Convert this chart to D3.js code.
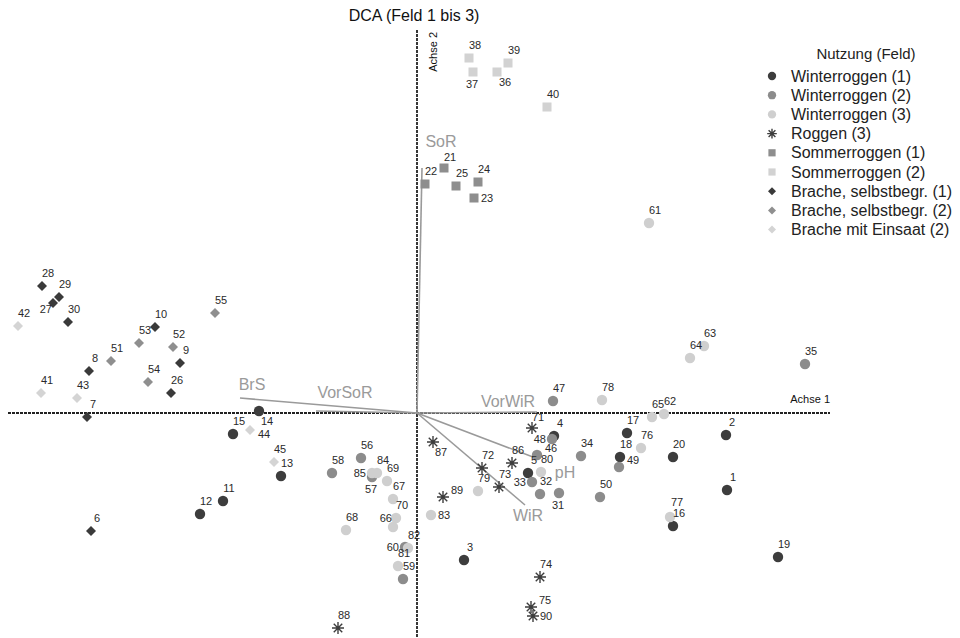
<!DOCTYPE html>
<html>
<head>
<meta charset="utf-8">
<script src="https://cdn.jsdelivr.net/npm/d3@7"></script>
<style>
  body { margin: 0; background: #fff; }
  svg { font-family: "Liberation Sans", Arial, sans-serif; }
  .flat { opacity: 0.995; }
</style>
</head>
<body>
<div id="chart"></div>
<script>
var svgWidth = 960;
var svgHeight = 638;

// Nutzung (Feld) groups
var groupNames = ["Winterroggen (1)", "Winterroggen (2)", "Winterroggen (3)", "Roggen (3)",
  "Sommerroggen (1)", "Sommerroggen (2)", "Brache, selbstbegr. (1)",
  "Brache, selbstbegr. (2)", "Brache mit Einsaat (2)"];
var groupShapes = ["circle", "circle", "circle", "asterisk", "square", "square",
  "diamond", "diamond", "diamond"];
var groupColors = ["#3d3d3d", "#8c8c8c", "#cfcfcf", "#3d3d3d", "#8e8e8e", "#d2d2d2",
  "#3a3a3a", "#8f8f8f", "#d4d4d4"];

// site scores [plot, axis 1, axis 2]
var winterroggen1 = [[1, 3.10, -0.77], [2, 3.09, -0.22], [3, 0.47, -1.47], [4, 1.37, -0.23],
  [5, 1.11, -0.60], [11, -1.94, -0.88], [12, -2.17, -1.01], [13, -1.36, -0.63],
  [14, -1.58, 0.02], [15, -1.84, -0.21], [16, 2.56, -1.13], [17, 2.10, -0.20],
  [18, 2.03, -0.44], [19, 3.61, -1.44], [20, 2.56, -0.44]];
var winterroggen2 = [[31, 1.42, -0.80], [32, 1.23, -0.81], [33, 1.15, -0.69], [34, 1.64, -0.43],
  [35, 3.88, 0.49], [46, 1.20, -0.42], [47, 1.36, 0.12], [48, 1.35, -0.26],
  [49, 2.02, -0.54], [50, 1.83, -0.84], [56, -0.56, -0.45], [57, -0.45, -0.64],
  [58, -0.85, -0.60], [59, -0.14, -1.66], [60, -0.12, -1.34]];
var winterroggen3 = [[61, 2.32, 1.90], [62, 2.47, -0.01], [63, 2.87, 0.67], [64, 2.73, 0.55],
  [65, 2.35, -0.04], [66, -0.24, -1.14], [67, -0.24, -0.86], [68, -0.71, -1.17],
  [69, -0.30, -0.68], [70, -0.21, -1.05], [76, 2.24, -0.35], [77, 2.53, -1.04],
  [78, 1.85, 0.13], [79, 0.61, -0.78], [80, 1.24, -0.59], [81, -0.19, -1.53],
  [82, -0.09, -1.35], [83, 0.14, -1.02], [84, -0.40, -0.60], [85, -0.45, -0.60]];
var roggen3 = [[71, 1.15, -0.15], [72, 0.65, -0.55], [73, 0.82, -0.74], [74, 1.23, -1.64],
  [75, 1.14, -1.94], [86, 0.95, -0.50], [87, 0.16, -0.29], [88, -0.79, -2.15],
  [89, 0.26, -0.84], [90, 1.16, -2.03]];
var sommerroggen1 = [[21, 0.27, 2.45], [22, 0.08, 2.29], [23, 0.57, 2.15], [24, 0.61, 2.31],
  [25, 0.39, 2.27]];
var sommerroggen2 = [[36, 0.80, 3.41], [37, 0.56, 3.41], [38, 0.52, 3.55], [39, 0.91, 3.50],
  [40, 1.30, 3.06]];
var brache1 = [[6, -3.26, -1.18], [7, -3.30, -0.04], [8, -3.28, 0.42], [9, -2.37, 0.50],
  [10, -2.62, 0.86], [26, -2.46, 0.20], [27, -3.64, 1.10], [28, -3.75, 1.27],
  [29, -3.58, 1.16], [30, -3.49, 0.91]];
var brache2 = [[51, -3.06, 0.52], [52, -2.44, 0.66], [53, -2.78, 0.70], [54, -2.69, 0.31],
  [55, -2.02, 1.00]];
var bracheEinsaat = [[41, -3.76, 0.20], [42, -3.99, 0.87], [43, -3.40, 0.15], [44, -1.67, -0.17],
  [45, -1.43, -0.49]];

var groupData = [winterroggen1, winterroggen2, winterroggen3, roggen3, sommerroggen1,
  sommerroggen2, brache1, brache2, bracheEinsaat];

// environmental vectors
var vectorNames = ["SoR", "BrS", "VorSoR", "VorWiR", "pH", "WiR"];
var vectorX = [0.05, -1.77, -1.01, 1.20, 1.16, 1.08];
var vectorY = [2.45, 0.15, 0.02, 0.01, -0.44, -0.92];

// label placement (layout only)
var labelPlace = {14: "se", 36: "se", 87: "se", 37: "s", 31: "s", 57: "s", 33: "w", 85: "w",
  60: "w", 48: "w", 27: "sw", 66: "nw", 23: "e", 44: "e2", 83: "e", 90: "e", 89: "en",
  49: "en", 75: "en", 46: "en", 77: "n2", 21: "n3", 71: "n3"};
var placeOffsets = {
  ne: [6, -9, "middle"], se: [2, 14, "start"], s: [-1, 16, "middle"], w: [-6, 4, "end"],
  sw: [-1, 10, "end"], nw: [-1, -5, "end"], e: [7, 4, "start"], en: [8, -3, "start"],
  e2: [8, 8, "start"], n2: [7, -11, "middle"], n3: [6, -7, "middle"]
};
var vectorLabelOffsets = [[19, -21], [12, -8], [29, -13], [-29, -5], [32, 21], [3, 16]];

var svg = d3.select("#chart")
  .append("svg")
  .attr("width", svgWidth)
  .attr("height", svgHeight);

var xScale = d3.scaleLinear().domain([-4.09, 4.13]).range([8, 830]);
var yScale = d3.scaleLinear().domain([3.83, -2.25]).range([30, 638]);

// title
svg.append("text")
  .attr("x", 414)
  .attr("y", 21)
  .attr("text-anchor", "middle")
  .attr("font-size", 16)
  .attr("fill", "#111")
  .text("DCA (Feld 1 bis 3)");

// axes through origin
svg.append("line")
  .attr("x1", xScale(-4.09)).attr("x2", xScale(4.13))
  .attr("y1", yScale(0)).attr("y2", yScale(0))
  .attr("stroke", "#222")
  .attr("stroke-width", 1.8)
  .attr("stroke-dasharray", "3,1");
svg.append("line")
  .attr("x1", xScale(0)).attr("x2", xScale(0))
  .attr("y1", yScale(3.83)).attr("y2", yScale(-2.25))
  .attr("stroke", "#222")
  .attr("stroke-width", 1.8)
  .attr("stroke-dasharray", "3,1");

svg.append("text")
  .attr("x", xScale(4.13))
  .attr("y", yScale(0) - 10)
  .attr("text-anchor", "end")
  .attr("font-size", 11)
  .attr("fill", "#111")
  .text("Achse 1");
svg.append("text")
  .attr("transform", `translate(${xScale(0) + 20}, ${yScale(3.83) + 2}) rotate(-90)`)
  .attr("text-anchor", "end")
  .attr("font-size", 11)
  .attr("fill", "#111")
  .text("Achse 2");

// vectors
var vecGroup = svg.append("g");
vectorNames.forEach((name, i) => {
  vecGroup.append("line")
    .attr("x1", xScale(0)).attr("y1", yScale(0))
    .attr("x2", xScale(vectorX[i])).attr("y2", yScale(vectorY[i]))
    .attr("stroke", "#9a9a9a")
    .attr("stroke-width", 1.6);
  vecGroup.append("text")
    .attr("x", xScale(vectorX[i]) + vectorLabelOffsets[i][0])
    .attr("y", yScale(vectorY[i]) + vectorLabelOffsets[i][1])
    .attr("text-anchor", "middle")
    .attr("font-size", 16)
    .attr("fill", "#9a9a9a")
    .text(name);
});

function asteriskPath(r) {
  var d = r * Math.SQRT1_2;
  return `M${-r},0L${r},0M0,${-r}L0,${r}M${-d},${-d}L${d},${d}M${-d},${d}L${d},${-d}`;
}

function drawSymbol(g, shape, color, scaleF) {
  if (shape === "circle") {
    g.append("circle").attr("r", 5.2 * scaleF).attr("fill", color);
  } else if (shape === "square") {
    var s = 9 * scaleF;
    g.append("rect").attr("x", -s / 2).attr("y", -s / 2).attr("width", s).attr("height", s)
      .attr("fill", color);
  } else if (shape === "diamond") {
    g.append("path")
      .attr("d", d3.symbol().type(d3.symbolSquare).size(50 * scaleF * scaleF))
      .attr("transform", "rotate(45)")
      .attr("fill", color);
  } else {
    g.append("path")
      .attr("d", asteriskPath(6 * scaleF))
      .attr("stroke", color)
      .attr("stroke-width", 1.4)
      .attr("fill", "none");
  }
}

// points
var pointGroup = svg.append("g");
var labelGroup = svg.append("g").attr("class", "flat");
groupData.forEach((rows, gi) => {
  rows.forEach(row => {
    var px = xScale(row[1]);
    var py = yScale(row[2]);
    var g = pointGroup.append("g").attr("transform", `translate(${px}, ${py})`);
    drawSymbol(g, groupShapes[gi], groupColors[gi], 1);
    var off = placeOffsets[labelPlace[row[0]] || "ne"];
    labelGroup.append("text")
      .attr("x", px + off[0])
      .attr("y", py + off[1])
      .attr("text-anchor", off[2])
      .attr("font-size", 11)
      .attr("fill", "#2a2a2a")
      .text(row[0]);
  });
});

// legend
var legend = svg.append("g").attr("transform", "translate(772, 0)");
legend.append("text")
  .attr("x", 94)
  .attr("y", 59)
  .attr("text-anchor", "middle")
  .attr("font-size", 15)
  .attr("fill", "#222")
  .text("Nutzung (Feld)");
groupNames.forEach((name, i) => {
  var yPos = 76 + i * 19.2;
  var g = legend.append("g").attr("transform", `translate(0, ${yPos})`);
  drawSymbol(g, groupShapes[i], groupColors[i], 0.8);
  legend.append("text")
    .attr("x", 19)
    .attr("y", yPos + 5.5)
    .attr("font-size", 16)
    .attr("fill", "#222")
    .text(name);
});
</script>
</body>
</html>
